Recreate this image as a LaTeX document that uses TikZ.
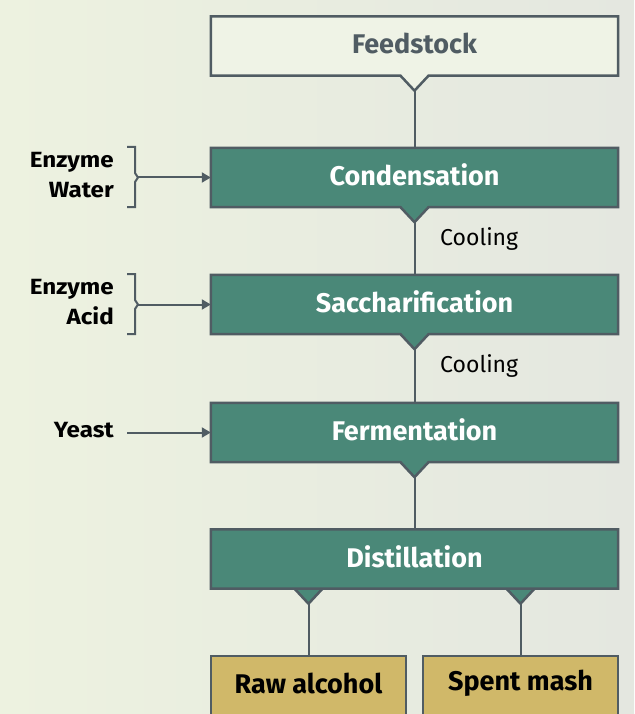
\documentclass[tikz,border=0pt]{standalone}
\usepackage{fontspec}
\setmainfont{Fira Sans}
\newfontfamily\sidefont{Fira Sans}[FakeStretch=1.1]
\usetikzlibrary{calc,arrows.meta}
\definecolor{edge}{HTML}{505C63}
\definecolor{boxgreen}{HTML}{4A8878}
\definecolor{boxgold}{HTML}{D0B869}
\definecolor{bgleft}{HTML}{EDF2E0}
\definecolor{bgright}{HTML}{E4E7E0}
\definecolor{feedfill}{HTML}{EFF3E6}
\tikzset{
  stagebox/.style={rectangle, minimum width=407pt, minimum height=59pt, inner sep=0pt,
    font=\bfseries\fontsize{27}{29}\selectfont, text=white},
  stagetext/.style={stagebox, yshift=2.5pt},
  productbox/.style={rectangle, draw=edge, line width=2.5pt, fill=boxgold, minimum width=195pt,
    minimum height=60pt, inner sep=0pt, font=\bfseries\fontsize{27}{29}\selectfont, text=black},
  producttext/.style={font=\bfseries\fontsize{27}{29}\selectfont, text=black, inner sep=0pt, yshift=2.5pt},
  outline/.style={draw=edge, line width=2.5pt, line join=miter},
  link/.style={draw=edge, line width=2pt},
  feedarrow/.style={draw=edge, line width=2pt, -{Triangle[length=9pt,width=10pt]}},
  sidelabel/.style={font=\sidefont\bfseries\fontsize{22}{30}\selectfont, align=right, anchor=east, inner sep=0pt},
  coollabel/.style={font=\fontsize{23}{25}\selectfont, anchor=west, inner sep=0pt},
}
\newcommand{\notchedbox}[3]{% name, fill, notch offset list
  \path[outline, fill=#2] (#1.north west) -- (#1.north east) -- (#1.south east)
  \foreach \o in {#3} { -- ($(#1.south)+(\o+14,0)$) -- ($(#1.south)+(\o,15)$) -- ($(#1.south)+(\o-14,0)$) }
  -- (#1.south west) -- cycle;
}
\begin{document}
\begin{tikzpicture}[x=1pt,y=-1pt]
\useasboundingbox (0,0) rectangle (634,714);
\shade[left color=bgleft, right color=bgright] (0,0) rectangle (634,714);

% stage boxes (outlines drawn with notches, text on top)
\node[stagebox] (feed) at (414.5,46) {};
\notchedbox{feed}{feedfill}{0}
\node[stagetext, text=edge] at (feed) {Feedstock};

\node[stagebox] (cond) at (414.5,177.5) {};
\notchedbox{cond}{boxgreen}{0}
\node[stagetext] at (cond) {Condensation};

\node[stagebox] (sacc) at (414.5,304.5) {};
\notchedbox{sacc}{boxgreen}{0}
\node[stagetext] at (sacc) {Saccharification};

\node[stagebox] (ferm) at (414.5,432.5) {};
\notchedbox{ferm}{boxgreen}{0}
\node[stagetext] at (ferm) {Fermentation};

\node[stagebox] (dist) at (414.5,559) {};
\notchedbox{dist}{boxgreen}{-106,106}
\node[stagetext] at (dist) {Distillation};

\node[productbox] (raw) at (308.5,686) {};
\node[producttext] at (raw) {Raw alcohol};
\node[productbox] (spent) at (520.5,686) {};
\node[producttext] at (spent) {Spent mash};

% notch tips
\coordinate (feedtip) at ($(feed.south)+(0,15)$);
\coordinate (condtip) at ($(cond.south)+(0,15)$);
\coordinate (sacctip) at ($(sacc.south)+(0,15)$);
\coordinate (fermtip) at ($(ferm.south)+(0,15)$);
\coordinate (disttipA) at ($(dist.south)+(-106,15)$);
\coordinate (disttipB) at ($(dist.south)+(106,15)$);

\draw[link] (feedtip) -- (cond.north);
\draw[link] (condtip) -- (sacc.north);
\draw[link] (sacctip) -- (ferm.north);
\draw[link] (fermtip) -- (dist.north);
\draw[link] (disttipA) -- (raw.north);
\draw[link] (disttipB) -- (spent.north);

\node[coollabel] (cool1) at (440,239) {Cooling};
\node[coollabel] (cool2) at (440,366) {Cooling};

% inputs
\node[sidelabel] (in1) at (114,175) {Enzyme\\Water};
\node[sidelabel] (in2) at (114,302) {Enzyme\\Acid};
\node[sidelabel] (in3) at (114,430) {Yeast};

\coordinate (br1) at (138,177.5);
\coordinate (br2) at (138,304.5);
\draw[link, line join=miter] (127,147) -- (135,147) -- (135,173) -- (br1) -- (135,182) -- (135,207) -- (127,207);
\draw[link, line join=miter] (127,274) -- (135,274) -- (135,300) -- (br2) -- (135,309) -- (135,334) -- (127,334);
\draw[feedarrow] (br1) -- (cond.west);
\draw[feedarrow] (br2) -- (sacc.west);
\coordinate (yeastend) at (127,432.5);
\draw[feedarrow] (yeastend) -- (ferm.west);
\end{tikzpicture}
\end{document}
